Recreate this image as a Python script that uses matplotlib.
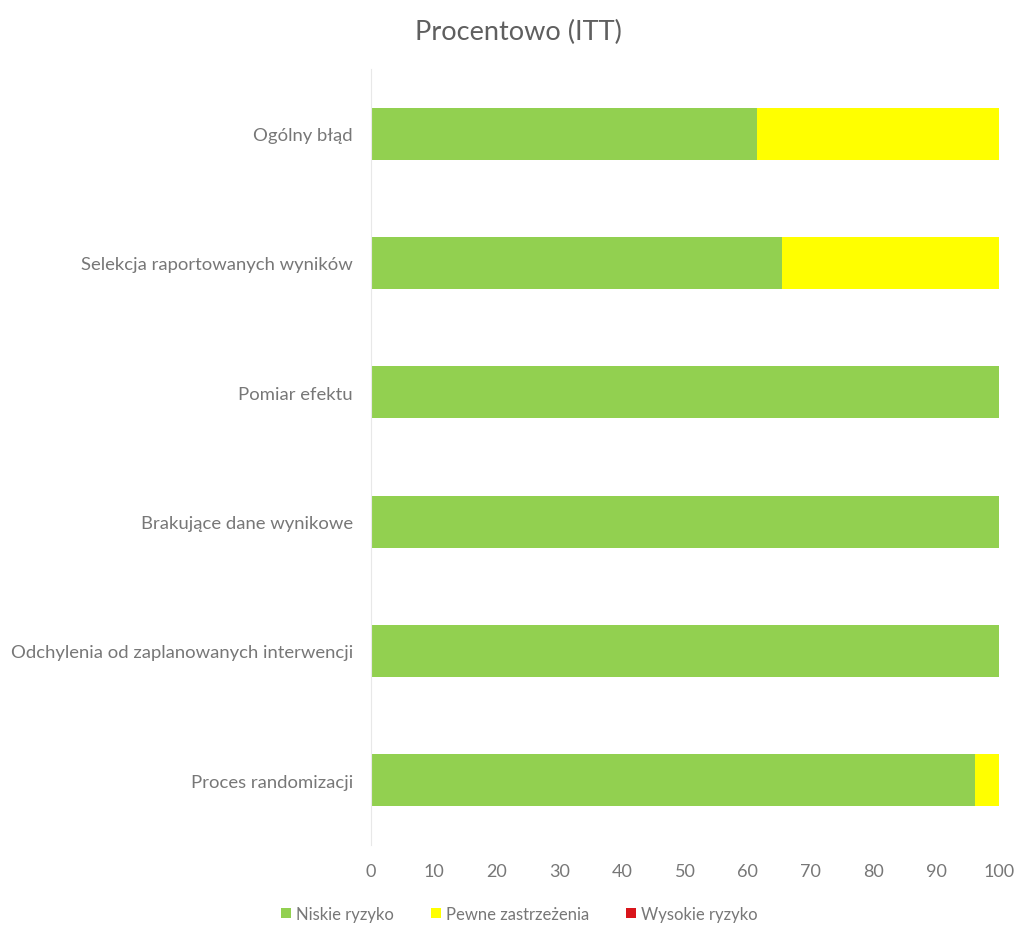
import matplotlib.pyplot as plt

# risk of bias assessment, percent of studies (ITT)
categories = [
    "Ogólny błąd",
    "Selekcja raportowanych wyników",
    "Pomiar efektu",
    "Brakujące dane wynikowe",
    "Odchylenia od zaplanowanych interwencji",
    "Proces randomizacji",
]
niskie = [61.5, 65.4, 100, 100, 100, 96.2]
pewne = [38.5, 34.6, 0, 0, 0, 3.8]
wysokie = [0, 0, 0, 0, 0, 0]
series_names = ["Niskie ryzyko", "Pewne zastrzeżenia", "Wysokie ryzyko"]
xticks = [0, 10, 20, 30, 40, 50, 60, 70, 80, 90, 100]

colors = ["#92D050", "#FFFF00", "#D9151B"]
text_color = "#777777"
plt.rcParams["font.family"] = ["Lato", "DejaVu Sans"]

fig = plt.figure(figsize=(10.2, 9.28), dpi=100)
ax = fig.add_axes([0.3637, 0.0884, 0.6157, 0.8362])

y = list(range(len(categories)))[::-1]
left = [0] * len(categories)
for vals, name, c in zip([niskie, pewne, wysokie], series_names, colors):
    ax.barh(y, vals, left=left, height=0.4, color=c, label=name)
    left = [a + b for a, b in zip(left, vals)]

ax.set_xlim(0, 100)
ax.set_ylim(-0.5, len(categories) - 0.5)
ax.set_yticks(y)
ax.set_yticklabels(categories)
ax.set_xticks(xticks)
ax.tick_params(axis="both", length=0, colors=text_color)
ax.tick_params(axis="x", pad=13, labelsize=13)
ax.tick_params(axis="y", pad=13, labelsize=13.3)
for s in ["top", "right", "bottom"]:
    ax.spines[s].set_visible(False)
ax.spines["left"].set_color("#e8e8e8")

fig.suptitle("Procentowo (ITT)", x=0.508, y=0.978, fontsize=19.5, color="#5f5f5f")

fig.legend(loc="center", bbox_to_anchor=(0.509, 0.014), ncol=3, frameon=False,
           fontsize=12, handlelength=0.6, handleheight=0.6, handletextpad=0.3,
           columnspacing=2.2, labelcolor=text_color)

fig.savefig("out.png", dpi=100)
